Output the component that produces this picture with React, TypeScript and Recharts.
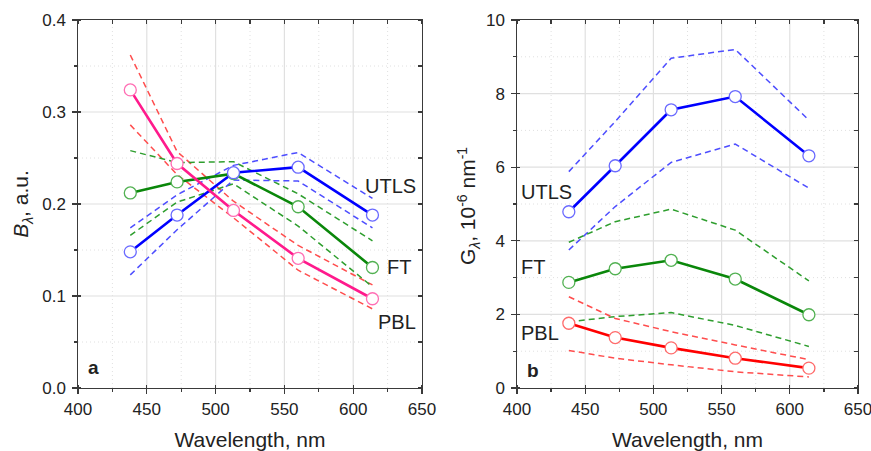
import { LineChart, Line, XAxis, YAxis, ReferenceLine } from 'recharts';

const wavelengths = [438, 472, 513, 560, 614];

// panel a: B_lambda, a.u.
const bUtls = [0.148, 0.188, 0.234, 0.24, 0.188];
const bUtlsHi = [0.174, 0.21, 0.242, 0.256, 0.206];
const bUtlsLo = [0.123, 0.172, 0.226, 0.225, 0.174];
const bFt = [0.212, 0.224, 0.233, 0.197, 0.131];
const bFtHi = [0.258, 0.245, 0.246, 0.211, 0.16];
const bFtLo = [0.166, 0.202, 0.222, 0.176, 0.11];
const bPbl = [0.324, 0.244, 0.193, 0.141, 0.097];
const bPblHi = [0.362, 0.257, 0.203, 0.155, 0.112];
const bPblLo = [0.286, 0.232, 0.185, 0.128, 0.086];

// panel b: G_lambda, 10^-6 nm^-1
const gUtls = [4.79, 6.04, 7.56, 7.92, 6.31];
const gUtlsHi = [5.88, 7.24, 8.96, 9.2, 7.28];
const gUtlsLo = [3.75, 4.93, 6.13, 6.63, 5.43];
const gFt = [2.87, 3.24, 3.47, 2.96, 1.99];
const gFtHi = [3.96, 4.52, 4.86, 4.29, 2.91];
const gFtLo = [1.8, 1.94, 2.05, 1.7, 1.13];
const gPbl = [1.76, 1.37, 1.09, 0.81, 0.54];
const gPblHi = [2.48, 1.89, 1.53, 1.17, 0.77];
const gPblLo = [1.02, 0.81, 0.63, 0.44, 0.3];

const xMajor = [400, 450, 500, 550, 600, 650];
const xMinor = [425, 475, 525, 575, 625];
const yMajorA = [0, 0.1, 0.2, 0.3, 0.4];
const yMinorA = [0.05, 0.15, 0.25, 0.35];
const yMajorB = [0, 2, 4, 6, 8, 10];
const yMinorB = [1, 3, 5, 7, 9];

const FONT = '"Liberation Sans", Arial, sans-serif';
const AXIS = '#3a3a3a';
const GRID = '#e0e0e0';
const TOP = 20;
const PLOT_H = 368;

const buildRows = (s: Record<string, number[]>) =>
  wavelengths.map((w, i) => {
    const r: any = { w };
    Object.keys(s).forEach((k) => (r[k] = s[k][i]));
    return r;
  });

const dataA = buildRows({ utls: bUtls, utlsHi: bUtlsHi, utlsLo: bUtlsLo, ft: bFt, ftHi: bFtHi, ftLo: bFtLo, pbl: bPbl, pblHi: bPblHi, pblLo: bPblLo });
const dataB = buildRows({ utls: gUtls, utlsHi: gUtlsHi, utlsLo: gUtlsLo, ft: gFt, ftHi: gFtHi, ftLo: gFtLo, pbl: gPbl, pblHi: gPblHi, pblLo: gPblLo });

const bottomTick = (props: any) => (
  <text x={Number(props.x)} y={Number(props.y) + 27} textAnchor="middle" fontSize={17} fontFamily={FONT} fill="#222">
    {props.payload.value}
  </text>
);

const leftTick = (digits: number) => (props: any) => (
  <text x={Number(props.x) - 12} y={Number(props.y) + 6} textAnchor="end" fontSize={17} fontFamily={FONT} fill="#222">
    {Number(props.payload.value).toFixed(digits)}
  </text>
);

const xTitle = (props: any) => {
  const vb = props.viewBox;
  return (
    <text x={vb.x + vb.width / 2} y={vb.y + 59} textAnchor="middle" fontSize={21} fontFamily={FONT} fill="#222">
      Wavelength, nm
    </text>
  );
};

const yTitleA = (props: any) => {
  const vb = props.viewBox;
  const cx = vb.x + 28;
  const cy = vb.y + vb.height / 2;
  return (
    <text x={cx} y={cy} transform={`rotate(-90 ${cx} ${cy})`} textAnchor="middle" fontSize={21} fontFamily={FONT} fill="#222">
      <tspan fontStyle="italic">B</tspan>
      <tspan dy={5} fontSize={14} fontStyle="italic">λ</tspan>
      <tspan dy={-5}>, a.u.</tspan>
    </text>
  );
};

const yTitleB = (props: any) => {
  const vb = props.viewBox;
  const cx = vb.x + 35;
  const cy = vb.y + vb.height / 2 + 2;
  return (
    <text x={cx} y={cy} transform={`rotate(-90 ${cx} ${cy})`} textAnchor="middle" fontSize={21} fontFamily={FONT} fill="#222">
      <tspan>G</tspan>
      <tspan dy={5} fontSize={14} fontStyle="italic">λ</tspan>
      <tspan dy={-5}>, 10</tspan>
      <tspan dy={-8} fontSize={14}>-6</tspan>
      <tspan dy={8}> nm</tspan>
      <tspan dy={-8} fontSize={14}>-1</tspan>
    </text>
  );
};

const solid = (key: string, line: string, marker: string) => (
  <Line
    key={key}
    dataKey={key}
    stroke={line}
    strokeWidth={2.6}
    dot={{ r: 6, fill: '#fff', stroke: marker, strokeWidth: 1.3 }}
    isAnimationActive={false}
  />
);

const dashed = (key: string, color: string) => (
  <Line key={key} dataKey={key} stroke={color} strokeWidth={1.5} strokeDasharray="6 4" dot={false} isAnimationActive={false} />
);

const tag = (text: string, left: number, top: number, bold = false) => (
  <div
    style={{
      position: 'absolute',
      left,
      top,
      fontFamily: FONT,
      fontSize: bold ? 19 : 20,
      fontWeight: bold ? 'bold' : 'normal',
      lineHeight: '20px',
      color: '#222',
      whiteSpace: 'nowrap',
    }}
  >
    {text}
  </div>
);

const gridFor = (id: string, yMajors: number[], yMinors: number[]) => [
  ...xMinor.map((v) => <ReferenceLine key={id + 'xm' + v} x={v} stroke={GRID} strokeDasharray="1 3" />),
  ...yMinors.map((v) => <ReferenceLine key={id + 'ym' + v} y={v} stroke={GRID} strokeDasharray="1 3" />),
  ...xMajor.slice(1, -1).map((v) => <ReferenceLine key={id + 'xM' + v} x={v} stroke={GRID} strokeWidth={1.2} />),
  ...yMajors.slice(1, -1).map((v) => <ReferenceLine key={id + 'yM' + v} y={v} stroke={GRID} strokeWidth={1.2} />),
];

const axesFor = (yDomain: number[], yMajors: number[], digits: number, yWidth: number, yLabel: any) => [
  <XAxis key="xb" dataKey="w" type="number" domain={[400, 650]} ticks={xMajor} interval={0} tick={bottomTick} tickLine={false} tickSize={0} tickMargin={0} height={63} axisLine={false} label={xTitle} />,
  <YAxis key="yl" type="number" domain={yDomain} ticks={yMajors} interval={0} tick={leftTick(digits)} tickLine={false} tickSize={0} tickMargin={0} width={yWidth} axisLine={false} label={yLabel} />,
];

// plot frame with tick marks, laid over the chart at the plot rectangle
const bar = (key: string, left: number, top: number, width: number, height: number) => (
  <div key={key} style={{ position: 'absolute', left, top, width, height, background: AXIS }} />
);

const Frame = ({ left, width, yMax, yMajors, yMinors }: any) => {
  const bottom = TOP + PLOT_H;
  const right = left + width;
  const xp = (v: number) => left + ((v - 400) / 250) * width;
  const yp = (v: number) => bottom - (v / yMax) * PLOT_H;
  const t = 1.3;
  return (
    <>
      <div
        style={{
          position: 'absolute',
          left: left - 0.75,
          top: TOP - 0.75,
          width: width + 1.5,
          height: PLOT_H + 1.5,
          border: `1.5px solid ${AXIS}`,
          boxSizing: 'border-box',
        }}
      />
      {xMajor.map((v) => bar('bM' + v, xp(v) - t / 2, bottom - 3, t, 9))}
      {xMinor.map((v) => bar('bm' + v, xp(v) - t / 2, bottom, t, 4))}
      {[...xMajor, ...xMinor].map((v) => bar('t' + v, xp(v) - t / 2, TOP, t, 4))}
      {yMajors.map((v: number) => bar('lM' + v, left - 6, yp(v) - t / 2, 9, t))}
      {yMinors.map((v: number) => bar('lm' + v, left - 4, yp(v) - t / 2, 4, t))}
      {[...yMajors, ...yMinors].map((v: number) => bar('r' + v, right - 4, yp(v) - t / 2, 4, t))}
    </>
  );
};

export default function App() {
  return (
    <div style={{ position: 'absolute', left: 0, top: 0, width: 871, height: 451, background: '#fff' }}>
      <div style={{ position: 'absolute', left: 0, top: 0 }}>
        <LineChart width={440} height={451} data={dataA} margin={{ top: TOP, right: 18, left: 0, bottom: 0 }}>
          {gridFor('a', yMajorA, yMinorA)}
          {axesFor([0, 0.4], yMajorA, 1, 78, yTitleA)}
          {dashed('pblHi', '#ff4d4d')}
          {dashed('pblLo', '#ff4d4d')}
          {dashed('ftHi', '#2e9e2e')}
          {dashed('ftLo', '#2e9e2e')}
          {dashed('utlsHi', '#4d4dff')}
          {dashed('utlsLo', '#4d4dff')}
          {solid('ft', '#0a870a', '#52b152')}
          {solid('utls', '#0000ff', '#6a6aff')}
          {solid('pbl', '#ff1a8c', '#ff6eb4')}
        </LineChart>
      </div>
      <div style={{ position: 'absolute', left: 440, top: 0 }}>
        <LineChart width={431} height={451} data={dataB} margin={{ top: TOP, right: 13, left: 0, bottom: 0 }}>
          {gridFor('b', yMajorB, yMinorB)}
          {axesFor([0, 10], yMajorB, 0, 77, yTitleB)}
          {dashed('utlsHi', '#4d4dff')}
          {dashed('utlsLo', '#4d4dff')}
          {dashed('ftHi', '#2e9e2e')}
          {dashed('ftLo', '#2e9e2e')}
          {dashed('pblHi', '#ff4d4d')}
          {dashed('pblLo', '#ff4d4d')}
          {solid('utls', '#0000ff', '#6a6aff')}
          {solid('ft', '#0a870a', '#52b152')}
          {solid('pbl', '#ff0000', '#ff6b6b')}
        </LineChart>
      </div>
      <Frame left={78} width={344} yMax={0.4} yMajors={yMajorA} yMinors={yMinorA} />
      <Frame left={517} width={341} yMax={10} yMajors={yMajorB} yMinors={yMinorB} />
      {tag('UTLS', 365, 176)}
      {tag('FT', 387, 257)}
      {tag('PBL', 378, 312)}
      {tag('a', 88, 358, true)}
      {tag('UTLS', 521, 182)}
      {tag('FT', 521, 257)}
      {tag('PBL', 521, 323)}
      {tag('b', 527, 361, true)}
    </div>
  );
}
